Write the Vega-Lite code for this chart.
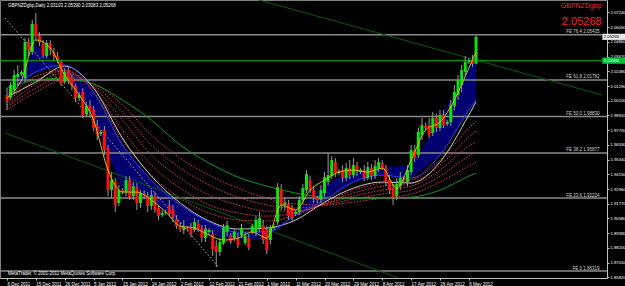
{
"$schema":"https://vega.github.io/schema/vega-lite/v6.json",
"width":607,"height":278,
"autosize":{"type":"none"},
"padding":{"left":0,"top":0,"right":18,"bottom":8},
"background":"#000000",
"config":{"view":{"stroke":"#808080","strokeWidth":1},"font":"Liberation Sans",
 "axis":{"grid":false,"titleOpacity":0,"titleFontSize":1,"labelFontSize":4.5,"labelColor":"#ffffff","labelPadding":1,"tickSize":2,"tickColor":"#c0c0c0","domainColor":"#c0c0c0","labelOverlap":false,"labelFlush":false,"labelBound":false}},
"datasets":{
"k":[
{"n":0,"d":"2011-12-06","o":2.0056,"h":2.0112,"l":1.9935,"c":2.0000},
{"n":1,"d":"2011-12-07","o":2.0039,"h":2.0161,"l":2.0016,"c":2.0137},
{"n":2,"d":"2011-12-08","o":2.0096,"h":2.0258,"l":2.0072,"c":2.0218},
{"n":3,"d":"2011-12-09","o":2.0201,"h":2.0299,"l":2.0137,"c":2.0226},
{"n":4,"d":"2011-12-11","o":2.0226,"h":2.0258,"l":2.0209,"c":2.0242},
{"n":5,"d":"2011-12-12","o":2.0193,"h":2.0517,"l":2.0161,"c":2.0485},
{"n":6,"d":"2011-12-13","o":2.0485,"h":2.0517,"l":2.0371,"c":2.0420},
{"n":7,"d":"2011-12-14","o":2.0404,"h":2.0663,"l":2.0380,"c":2.0631},
{"n":8,"d":"2011-12-15","o":2.0631,"h":2.0720,"l":2.0501,"c":2.0533},
{"n":9,"d":"2011-12-16","o":2.0533,"h":2.0566,"l":2.0452,"c":2.0485},
{"n":10,"d":"2011-12-18","o":2.0469,"h":2.0501,"l":2.0355,"c":2.0380},
{"n":11,"d":"2011-12-19","o":2.0371,"h":2.0501,"l":2.0355,"c":2.0477},
{"n":12,"d":"2011-12-20","o":2.0477,"h":2.0501,"l":2.0380,"c":2.0420},
{"n":13,"d":"2011-12-21","o":2.0404,"h":2.0436,"l":2.0339,"c":2.0371},
{"n":14,"d":"2011-12-22","o":2.0371,"h":2.0404,"l":2.0315,"c":2.0339},
{"n":15,"d":"2011-12-23","o":2.0323,"h":2.0339,"l":2.0129,"c":2.0145},
{"n":16,"d":"2011-12-26","o":2.0161,"h":2.0274,"l":2.0145,"c":2.0242},
{"n":17,"d":"2011-12-27","o":2.0258,"h":2.0282,"l":2.0145,"c":2.0177},
{"n":18,"d":"2011-12-28","o":2.0193,"h":2.0226,"l":2.0096,"c":2.0129},
{"n":19,"d":"2011-12-29","o":2.0129,"h":2.0145,"l":2.0000,"c":2.0031},
{"n":20,"d":"2011-12-30","o":2.0031,"h":2.0080,"l":2.0008,"c":2.0056},
{"n":21,"d":"2012-01-02","o":2.0080,"h":2.0112,"l":1.9870,"c":1.9895},
{"n":22,"d":"2012-01-03","o":1.9903,"h":2.0000,"l":1.9878,"c":1.9967},
{"n":23,"d":"2012-01-04","o":1.9975,"h":2.0016,"l":1.9886,"c":1.9919},
{"n":24,"d":"2012-01-05","o":1.9935,"h":1.9967,"l":1.9765,"c":1.9789},
{"n":25,"d":"2012-01-06","o":1.9805,"h":1.9854,"l":1.9692,"c":1.9733},
{"n":26,"d":"2012-01-08","o":1.9741,"h":1.9773,"l":1.9725,"c":1.9757},
{"n":27,"d":"2012-01-09","o":1.9773,"h":1.9805,"l":1.9571,"c":1.9611},
{"n":28,"d":"2012-01-10","o":1.9627,"h":1.9652,"l":1.9238,"c":1.9287},
{"n":29,"d":"2012-01-11","o":1.9287,"h":1.9433,"l":1.9222,"c":1.9368},
{"n":30,"d":"2012-01-12","o":1.9352,"h":1.9384,"l":1.9110,"c":1.9167},
{"n":31,"d":"2012-01-13","o":1.9183,"h":1.9328,"l":1.9159,"c":1.9287},
{"n":32,"d":"2012-01-15","o":1.9287,"h":1.9303,"l":1.9255,"c":1.9271},
{"n":33,"d":"2012-01-16","o":1.9271,"h":1.9400,"l":1.9238,"c":1.9368},
{"n":34,"d":"2012-01-17","o":1.9368,"h":1.9400,"l":1.9207,"c":1.9230},
{"n":35,"d":"2012-01-18","o":1.9238,"h":1.9352,"l":1.9207,"c":1.9319},
{"n":36,"d":"2012-01-19","o":1.9311,"h":1.9344,"l":1.9126,"c":1.9183},
{"n":37,"d":"2012-01-20","o":1.9183,"h":1.9287,"l":1.9142,"c":1.9263},
{"n":38,"d":"2012-01-22","o":1.9255,"h":1.9287,"l":1.9214,"c":1.9238},
{"n":39,"d":"2012-01-23","o":1.9238,"h":1.9271,"l":1.9110,"c":1.9159},
{"n":40,"d":"2012-01-24","o":1.9159,"h":1.9287,"l":1.9126,"c":1.9247},
{"n":41,"d":"2012-01-25","o":1.9238,"h":1.9271,"l":1.9102,"c":1.9126},
{"n":42,"d":"2012-01-26","o":1.9142,"h":1.9167,"l":1.9045,"c":1.9077},
{"n":43,"d":"2012-01-27","o":1.9085,"h":1.9126,"l":1.9069,"c":1.9102},
{"n":44,"d":"2012-01-29","o":1.9102,"h":1.9126,"l":1.9085,"c":1.9110},
{"n":45,"d":"2012-01-30","o":1.9167,"h":1.9207,"l":1.9077,"c":1.9102},
{"n":46,"d":"2012-01-31","o":1.9126,"h":1.9167,"l":1.9029,"c":1.9061},
{"n":47,"d":"2012-02-01","o":1.9053,"h":1.9085,"l":1.8972,"c":1.8996},
{"n":48,"d":"2012-02-02","o":1.8996,"h":1.9029,"l":1.8948,"c":1.8972},
{"n":49,"d":"2012-02-03","o":1.8964,"h":1.9045,"l":1.8932,"c":1.8988},
{"n":50,"d":"2012-02-05","o":1.8980,"h":1.8996,"l":1.8956,"c":1.8972},
{"n":51,"d":"2012-02-06","o":1.8980,"h":1.9021,"l":1.8907,"c":1.8932},
{"n":52,"d":"2012-02-07","o":1.8964,"h":1.9061,"l":1.8948,"c":1.9029},
{"n":53,"d":"2012-02-08","o":1.9013,"h":1.9045,"l":1.8948,"c":1.8972},
{"n":54,"d":"2012-02-09","o":1.8980,"h":1.9004,"l":1.8867,"c":1.8899},
{"n":55,"d":"2012-02-10","o":1.8899,"h":1.9004,"l":1.8867,"c":1.8972},
{"n":56,"d":"2012-02-12","o":1.8948,"h":1.8980,"l":1.8923,"c":1.8964},
{"n":57,"d":"2012-02-13","o":1.8932,"h":1.8964,"l":1.8754,"c":1.8810},
{"n":58,"d":"2012-02-14","o":1.8834,"h":1.8883,"l":1.8664,"c":1.8786},
{"n":59,"d":"2012-02-15","o":1.8786,"h":1.8899,"l":1.8754,"c":1.8867},
{"n":60,"d":"2012-02-16","o":1.8859,"h":1.9013,"l":1.8843,"c":1.8980},
{"n":61,"d":"2012-02-17","o":1.8948,"h":1.9037,"l":1.8915,"c":1.9004},
{"n":62,"d":"2012-02-19","o":1.8923,"h":1.8940,"l":1.8851,"c":1.8867},
{"n":63,"d":"2012-02-20","o":1.8899,"h":1.8972,"l":1.8875,"c":1.8948},
{"n":64,"d":"2012-02-21","o":1.8899,"h":1.8940,"l":1.8818,"c":1.8843},
{"n":65,"d":"2012-02-22","o":1.8923,"h":1.9013,"l":1.8899,"c":1.8980},
{"n":66,"d":"2012-02-23","o":1.8859,"h":1.8948,"l":1.8843,"c":1.8915},
{"n":67,"d":"2012-02-24","o":1.8899,"h":1.8932,"l":1.8802,"c":1.8826},
{"n":68,"d":"2012-02-26","o":1.8948,"h":1.9013,"l":1.8932,"c":1.8996},
{"n":69,"d":"2012-02-27","o":1.8948,"h":1.9077,"l":1.8915,"c":1.9045},
{"n":70,"d":"2012-02-28","o":1.8980,"h":1.9110,"l":1.8948,"c":1.9061},
{"n":71,"d":"2012-02-29","o":1.9004,"h":1.9045,"l":1.8851,"c":1.8883},
{"n":72,"d":"2012-03-01","o":1.8964,"h":1.8996,"l":1.8770,"c":1.8802},
{"n":73,"d":"2012-03-02","o":1.8883,"h":1.9004,"l":1.8851,"c":1.8980},
{"n":74,"d":"2012-03-04","o":1.8980,"h":1.9013,"l":1.8964,"c":1.8996},
{"n":75,"d":"2012-03-05","o":1.9029,"h":1.9344,"l":1.9004,"c":1.9311},
{"n":76,"d":"2012-03-06","o":1.9295,"h":1.9336,"l":1.9126,"c":1.9159},
{"n":77,"d":"2012-03-07","o":1.9167,"h":1.9223,"l":1.9126,"c":1.9183},
{"n":78,"d":"2012-03-08","o":1.9175,"h":1.9207,"l":1.9045,"c":1.9077},
{"n":79,"d":"2012-03-09","o":1.9142,"h":1.9167,"l":1.9029,"c":1.9069},
{"n":80,"d":"2012-03-11","o":1.9094,"h":1.9126,"l":1.9077,"c":1.9110},
{"n":81,"d":"2012-03-12","o":1.9110,"h":1.9238,"l":1.9085,"c":1.9207},
{"n":82,"d":"2012-03-13","o":1.9207,"h":1.9336,"l":1.9175,"c":1.9303},
{"n":83,"d":"2012-03-14","o":1.9287,"h":1.9449,"l":1.9263,"c":1.9416},
{"n":84,"d":"2012-03-15","o":1.9368,"h":1.9400,"l":1.9263,"c":1.9287},
{"n":85,"d":"2012-03-16","o":1.9287,"h":1.9319,"l":1.9183,"c":1.9223},
{"n":86,"d":"2012-03-18","o":1.9223,"h":1.9238,"l":1.9183,"c":1.9207},
{"n":87,"d":"2012-03-19","o":1.9207,"h":1.9328,"l":1.9183,"c":1.9287},
{"n":88,"d":"2012-03-20","o":1.9263,"h":1.9433,"l":1.9238,"c":1.9392},
{"n":89,"d":"2012-03-21","o":1.9352,"h":1.9587,"l":1.9328,"c":1.9408},
{"n":90,"d":"2012-03-22","o":1.9400,"h":1.9562,"l":1.9376,"c":1.9530},
{"n":91,"d":"2012-03-23","o":1.9514,"h":1.9546,"l":1.9392,"c":1.9425},
{"n":92,"d":"2012-03-25","o":1.9425,"h":1.9457,"l":1.9408,"c":1.9441},
{"n":93,"d":"2012-03-26","o":1.9449,"h":1.9489,"l":1.9352,"c":1.9384},
{"n":94,"d":"2012-03-27","o":1.9384,"h":1.9506,"l":1.9360,"c":1.9465},
{"n":95,"d":"2012-03-28","o":1.9465,"h":1.9530,"l":1.9376,"c":1.9408},
{"n":96,"d":"2012-03-29","o":1.9408,"h":1.9546,"l":1.9384,"c":1.9489},
{"n":97,"d":"2012-03-30","o":1.9481,"h":1.9514,"l":1.9400,"c":1.9433},
{"n":98,"d":"2012-04-01","o":1.9433,"h":1.9465,"l":1.9416,"c":1.9449},
{"n":99,"d":"2012-04-02","o":1.9449,"h":1.9489,"l":1.9360,"c":1.9384},
{"n":100,"d":"2012-04-03","o":1.9384,"h":1.9514,"l":1.9368,"c":1.9473},
{"n":101,"d":"2012-04-04","o":1.9465,"h":1.9497,"l":1.9368,"c":1.9400},
{"n":102,"d":"2012-04-05","o":1.9400,"h":1.9530,"l":1.9376,"c":1.9481},
{"n":103,"d":"2012-04-06","o":1.9465,"h":1.9546,"l":1.9433,"c":1.9514},
{"n":104,"d":"2012-04-08","o":1.9506,"h":1.9530,"l":1.9449,"c":1.9465},
{"n":105,"d":"2012-04-09","o":1.9465,"h":1.9489,"l":1.9319,"c":1.9352},
{"n":106,"d":"2012-04-10","o":1.9368,"h":1.9408,"l":1.9255,"c":1.9287},
{"n":107,"d":"2012-04-11","o":1.9303,"h":1.9336,"l":1.9167,"c":1.9230},
{"n":108,"d":"2012-04-12","o":1.9238,"h":1.9384,"l":1.9207,"c":1.9336},
{"n":109,"d":"2012-04-13","o":1.9319,"h":1.9433,"l":1.9287,"c":1.9384},
{"n":110,"d":"2012-04-15","o":1.9384,"h":1.9400,"l":1.9352,"c":1.9368},
{"n":111,"d":"2012-04-16","o":1.9352,"h":1.9489,"l":1.9319,"c":1.9449},
{"n":112,"d":"2012-04-17","o":1.9433,"h":1.9652,"l":1.9408,"c":1.9611},
{"n":113,"d":"2012-04-18","o":1.9611,"h":1.9652,"l":1.9514,"c":1.9546},
{"n":114,"d":"2012-04-19","o":1.9571,"h":1.9789,"l":1.9546,"c":1.9757},
{"n":115,"d":"2012-04-20","o":1.9733,"h":1.9870,"l":1.9692,"c":1.9813},
{"n":116,"d":"2012-04-22","o":1.9805,"h":1.9830,"l":1.9773,"c":1.9789},
{"n":117,"d":"2012-04-23","o":1.9813,"h":1.9870,"l":1.9708,"c":1.9733},
{"n":118,"d":"2012-04-24","o":1.9749,"h":1.9919,"l":1.9725,"c":1.9870},
{"n":119,"d":"2012-04-25","o":1.9870,"h":1.9903,"l":1.9757,"c":1.9789},
{"n":120,"d":"2012-04-26","o":1.9789,"h":1.9935,"l":1.9765,"c":1.9895},
{"n":121,"d":"2012-04-27","o":1.9895,"h":1.9935,"l":1.9789,"c":1.9813},
{"n":122,"d":"2012-04-29","o":1.9821,"h":1.9854,"l":1.9805,"c":1.9838},
{"n":123,"d":"2012-04-30","o":1.9838,"h":2.0016,"l":1.9805,"c":1.9975},
{"n":124,"d":"2012-05-01","o":1.9967,"h":2.0137,"l":1.9935,"c":2.0080},
{"n":125,"d":"2012-05-02","o":2.0056,"h":2.0218,"l":2.0016,"c":2.0177},
{"n":126,"d":"2012-05-03","o":2.0137,"h":2.0299,"l":2.0080,"c":2.0258},
{"n":127,"d":"2012-05-04","o":2.0242,"h":2.0371,"l":2.0209,"c":2.0323},
{"n":128,"d":"2012-05-06","o":2.0323,"h":2.0355,"l":2.0307,"c":2.0339},
{"n":129,"d":"2012-05-07","o":2.0339,"h":2.0380,"l":2.0282,"c":2.0307},
{"n":130,"d":"2012-05-08","o":2.03103,"h":2.05390,"l":2.03083,"c":2.05268}
],
"ma":[
{"n":0,"bf":2.0039,"bb":2.0056,"w":2.0039,"g":2.0112,"r1":1.9935,"r2":1.9959,"r3":1.9975,"r4":2.0000,"r5":2.0016},
{"n":8,"bf":2.0460,"bb":2.0242,"w":2.0161,"g":2.0177,"r1":2.0080,"r2":2.0112,"r3":2.0145,"r4":2.0177,"r5":2.0209},
{"n":16,"bf":2.0242,"bb":2.0299,"w":2.0291,"g":2.0193,"r1":2.0177,"r2":2.0209,"r3":2.0234,"r4":2.0250,"r5":2.0258},
{"n":24,"bf":1.9870,"bb":2.0080,"w":2.0112,"g":2.0145,"r1":2.0145,"r2":2.0137,"r3":2.0121,"r4":2.0104,"r5":2.0080},
{"n":32,"bf":1.9287,"bb":1.9652,"w":1.9708,"g":2.0016,"r1":1.9975,"r2":1.9919,"r3":1.9854,"r4":1.9773,"r5":1.9692},
{"n":40,"bf":1.9207,"bb":1.9368,"w":1.9400,"g":1.9854,"r1":1.9733,"r2":1.9652,"r3":1.9571,"r4":1.9489,"r5":1.9408},
{"n":48,"bf":1.9004,"bb":1.9167,"w":1.9183,"g":1.9652,"r1":1.9546,"r2":1.9465,"r3":1.9384,"r4":1.9303,"r5":1.9222},
{"n":56,"bf":1.8923,"bb":1.9029,"w":1.9037,"g":1.9506,"r1":1.9408,"r2":1.9328,"r3":1.9247,"r4":1.9167,"r5":1.9102},
{"n":64,"bf":1.8883,"bb":1.8948,"w":1.8972,"g":1.9392,"r1":1.9303,"r2":1.9230,"r3":1.9167,"r4":1.9102,"r5":1.9045},
{"n":72,"bf":1.8899,"bb":1.8948,"w":1.8980,"g":1.9319,"r1":1.9222,"r2":1.9167,"r3":1.9118,"r4":1.9077,"r5":1.9037},
{"n":80,"bf":1.9110,"bb":1.9085,"w":1.9045,"g":1.9263,"r1":1.9175,"r2":1.9142,"r3":1.9118,"r4":1.9102,"r5":1.9085},
{"n":88,"bf":1.9328,"bb":1.9207,"w":1.9190,"g":1.9230,"r1":1.9167,"r2":1.9167,"r3":1.9175,"r4":1.9175,"r5":1.9183},
{"n":96,"bf":1.9449,"bb":1.9352,"w":1.9303,"g":1.9222,"r1":1.9190,"r2":1.9214,"r3":1.9238,"r4":1.9263,"r5":1.9287},
{"n":104,"bf":1.9473,"bb":1.9408,"w":1.9352,"g":1.9222,"r1":1.9222,"r2":1.9255,"r3":1.9287,"r4":1.9319,"r5":1.9344},
{"n":112,"bf":1.9489,"bb":1.9384,"w":1.9344,"g":1.9230,"r1":1.9255,"r2":1.9287,"r3":1.9319,"r4":1.9344,"r5":1.9368},
{"n":120,"bf":1.9854,"bb":1.9571,"w":1.9514,"g":1.9287,"r1":1.9352,"r2":1.9400,"r3":1.9449,"r4":1.9489,"r5":1.9530},
{"n":128,"bf":2.0299,"bb":1.9935,"w":1.9895,"g":1.9400,"r1":1.9481,"r2":1.9562,"r3":1.9643,"r4":1.9716,"r5":1.9789},
{"n":130,"bf":2.0420,"bb":2.0016,"w":2.0000,"g":1.9425,"r1":1.9514,"r2":1.9595,"r3":1.9676,"r4":1.9765,"r5":1.9846}
],
"yl":[
{"n":0,"p":2.0031},{"n":4,"p":2.0177},{"n":8,"p":2.0501},{"n":12,"p":2.0436},{"n":16,"p":2.0218},{"n":20,"p":2.0056},{"n":24,"p":1.9854},{"n":28,"p":1.9449},{"n":32,"p":1.9271},{"n":36,"p":1.9271},{"n":40,"p":1.9207},{"n":44,"p":1.9110},{"n":48,"p":1.8996},{"n":52,"p":1.8980},{"n":56,"p":1.8923},{"n":60,"p":1.8883},{"n":64,"p":1.8899},{"n":68,"p":1.8948},{"n":72,"p":1.8899},{"n":76,"p":1.9167},{"n":80,"p":1.9126},{"n":84,"p":1.9287},{"n":88,"p":1.9368},{"n":92,"p":1.9433},{"n":96,"p":1.9449},{"n":100,"p":1.9433},{"n":104,"p":1.9465},{"n":108,"p":1.9303},{"n":112,"p":1.9530},{"n":116,"p":1.9773},{"n":120,"p":1.9838},{"n":124,"p":2.0016},{"n":128,"p":2.0274},{"n":130,"p":2.0404}
],
"fib":[
{"t":"FE 0  1.86319","v":1.86319},
{"t":"FE 23.6  1.92224","v":1.92224},
{"t":"FE 38.2  1.95877","v":1.95877},
{"t":"FE 50.0  1.98830","v":1.98830},
{"t":"FE 61.8  2.01782","v":2.01782},
{"t":"FE 76.4  2.05435","v":2.05435}
],
"tl":[
{"line":"upper","n":69.8,"p":2.0825},{"line":"upper","n":165,"p":2.0056},
{"line":"lower","n":-0.55,"p":1.9749},{"line":"lower","n":108.5,"p":1.8576}
],
"dl":[{"n":-0.55,"p":2.0679},{"n":58.6,"p":1.8665}],
"lv":[{"v":2.0334}],
"bid":[{"t":"2.05268","v":2.05268,"lo":2.0502,"hi":2.0552}],
"lvtag":[{"t":"2.03340","v":2.0334,"lo":2.0309,"hi":2.0359}]
},
"layer":[
{"data":{"name":"ma"},"mark":{"type":"area","color":"#000070","opacity":1},
 "encoding":{"x":{"field":"n","type":"quantitative","scale":{"domain":[-0.55,164.9],"nice":false,"zero":false}},
 "y":{"field":"bf","type":"quantitative","scale":{"domain":[1.8576,2.0825],"nice":false,"zero":false},"axis":{"orient":"right"}},"y2":{"field":"bb"}}},
{"data":{"name":"fib"},"mark":{"type":"rule","color":"#8a8a8a","strokeWidth":1.5},
 "encoding":{"y":{"field":"v","type":"quantitative","scale":{"domain":[1.8576,2.0825],"nice":false,"zero":false},"axis":{"orient":"right"}}}},
{"data":{"name":"lv"},"mark":{"type":"rule","color":"#00b000","strokeWidth":1},
 "encoding":{"y":{"field":"v","type":"quantitative","scale":{"domain":[1.8576,2.0825],"nice":false,"zero":false},"axis":{"orient":"right"}}}},
{"data":{"name":"tl"},"mark":{"type":"line","color":"#006000","strokeWidth":1,"clip":true},
 "encoding":{"x":{"field":"n","type":"quantitative","scale":{"domain":[-0.55,164.9],"nice":false,"zero":false}},
 "y":{"field":"p","type":"quantitative","scale":{"domain":[1.8576,2.0825],"nice":false,"zero":false},"axis":{"orient":"right"}},"detail":{"field":"line"}}},
{"data":{"name":"dl"},"mark":{"type":"line","color":"#b0b0b0","strokeWidth":1,"strokeDash":[1.5,2],"clip":true},
 "encoding":{"x":{"field":"n","type":"quantitative","scale":{"domain":[-0.55,164.9],"nice":false,"zero":false}},
 "y":{"field":"p","type":"quantitative","scale":{"domain":[1.8576,2.0825],"nice":false,"zero":false},"axis":{"orient":"right"}}}},
{"data":{"name":"ma"},"transform":[{"fold":["r1","r2","r3","r4","r5"],"as":["k","p"]}],
 "mark":{"type":"line","strokeWidth":1,"strokeDash":[1.5,1.5],"interpolate":"monotone","color":"#e83c3c"},
 "encoding":{"x":{"field":"n","type":"quantitative","scale":{"domain":[-0.55,164.9],"nice":false,"zero":false}},
 "y":{"field":"p","type":"quantitative","scale":{"domain":[1.8576,2.0825],"nice":false,"zero":false},"axis":{"orient":"right"}},
 "detail":{"field":"k"}}},
{"data":{"name":"ma"},"mark":{"type":"line","color":"#109a10","strokeWidth":1,"interpolate":"monotone"},
 "encoding":{"x":{"field":"n","type":"quantitative","scale":{"domain":[-0.55,164.9],"nice":false,"zero":false}},
 "y":{"field":"g","type":"quantitative","scale":{"domain":[1.8576,2.0825],"nice":false,"zero":false},"axis":{"orient":"right"}}}},
{"data":{"name":"ma"},"mark":{"type":"line","color":"#c8c8c8","strokeWidth":1,"interpolate":"monotone"},
 "encoding":{"x":{"field":"n","type":"quantitative","scale":{"domain":[-0.55,164.9],"nice":false,"zero":false}},
 "y":{"field":"w","type":"quantitative","scale":{"domain":[1.8576,2.0825],"nice":false,"zero":false},"axis":{"orient":"right"}}}},
{"data":{"name":"ma"},"mark":{"type":"line","color":"#3a3aff","strokeWidth":1,"interpolate":"monotone"},
 "encoding":{"x":{"field":"n","type":"quantitative","scale":{"domain":[-0.55,164.9],"nice":false,"zero":false}},
 "y":{"field":"bb","type":"quantitative","scale":{"domain":[1.8576,2.0825],"nice":false,"zero":false},"axis":{"orient":"right"}}}},
{"data":{"name":"k"},"mark":{"type":"rule","color":"#9a9a9a","strokeWidth":1},
 "encoding":{"x":{"field":"n","type":"quantitative","scale":{"domain":[-0.55,164.9],"nice":false,"zero":false}},
 "y":{"field":"l","type":"quantitative","scale":{"domain":[1.8576,2.0825],"nice":false,"zero":false},"axis":{"orient":"right"}},"y2":{"field":"h"}}},
{"data":{"name":"k"},"mark":{"type":"bar","size":3},
 "encoding":{"x":{"field":"n","type":"quantitative","scale":{"domain":[-0.55,164.9],"nice":false,"zero":false},
   "axis":{"values":[0,8,16,24,32,40,48,56,64,72,80,88,96,104,112,120,128],"tickCount":60,"labelExpr":"['6 Dec 2011','15 Dec 2011','26 Dec 2011','5 Jan 2012','15 Jan 2012','24 Jan 2012','2 Feb 2012','12 Feb 2012','21 Feb 2012','1 Mar 2012','11 Mar 2012','20 Mar 2012','29 Mar 2012','8 Apr 2012','17 Apr 2012','26 Apr 2012','6 May 2012'][round(datum.value/8)]","labelAlign":"left","labelBaseline":"top","labelOverlap":false,"title":null}},
 "y":{"field":"o","type":"quantitative","scale":{"domain":[1.8576,2.0825],"nice":false,"zero":false},
   "axis":{"orient":"right","values":[1.8582,1.8701,1.882,1.8939,1.9058,1.9177,1.9296,1.9415,1.9534,1.9653,1.9772,1.9891,2.001,2.0129,2.0248,2.0367,2.0486,2.0605,2.0724],"tickCount":60,"format":".5f","labelFontSize":4.2,"labelAlign":"left","labelBaseline":"middle","labelOverlap":false,"title":null}},
 "y2":{"field":"c"},
 "color":{"condition":{"test":"datum.c >= datum.o","value":"#10e010"},"value":"#ff1010"}}},
{"data":{"name":"yl"},"mark":{"type":"line","color":"#c8c800","strokeWidth":1,"interpolate":"monotone"},
 "encoding":{"x":{"field":"n","type":"quantitative","scale":{"domain":[-0.55,164.9],"nice":false,"zero":false}},
 "y":{"field":"p","type":"quantitative","scale":{"domain":[1.8576,2.0825],"nice":false,"zero":false},"axis":{"orient":"right"}}}},
{"data":{"name":"fib"},"mark":{"type":"text","align":"right","baseline":"bottom","fontSize":4.5,"color":"#d0d0d0","dy":-0.5},
 "encoding":{"x":{"datum":164.2,"type":"quantitative","scale":{"domain":[-0.55,164.9],"nice":false,"zero":false}},
 "y":{"field":"v","type":"quantitative","scale":{"domain":[1.8576,2.0825],"nice":false,"zero":false},"axis":{"orient":"right"}},"text":{"field":"t"}}},
{"data":{"name":"bid"},"mark":{"type":"rect","clip":false,"color":"#e8e8e8"},
 "encoding":{"x":{"datum":165.0,"type":"quantitative","scale":{"domain":[-0.55,164.9],"nice":false,"zero":false}},"x2":{"datum":171.3},
 "y":{"field":"lo","type":"quantitative","scale":{"domain":[1.8576,2.0825],"nice":false,"zero":false},"axis":{"orient":"right"}},"y2":{"field":"hi"}}},
{"data":{"name":"lvtag"},"mark":{"type":"rect","clip":false,"color":"#00c040"},
 "encoding":{"x":{"datum":165.0,"type":"quantitative","scale":{"domain":[-0.55,164.9],"nice":false,"zero":false}},"x2":{"datum":171.3},
 "y":{"field":"lo","type":"quantitative","scale":{"domain":[1.8576,2.0825],"nice":false,"zero":false},"axis":{"orient":"right"}},"y2":{"field":"hi"}}},
{"data":{"name":"bid"},"mark":{"type":"text","align":"left","baseline":"middle","fontSize":4.2,"color":"#000000","clip":false},
 "encoding":{"x":{"datum":165.4,"type":"quantitative","scale":{"domain":[-0.55,164.9],"nice":false,"zero":false}},
 "y":{"field":"v","type":"quantitative","scale":{"domain":[1.8576,2.0825],"nice":false,"zero":false},"axis":{"orient":"right"}},"text":{"field":"t"}}},
{"data":{"name":"lvtag"},"mark":{"type":"text","align":"left","baseline":"middle","fontSize":4.2,"color":"#ffffff","clip":false},
 "encoding":{"x":{"datum":165.4,"type":"quantitative","scale":{"domain":[-0.55,164.9],"nice":false,"zero":false}},
 "y":{"field":"v","type":"quantitative","scale":{"domain":[1.8576,2.0825],"nice":false,"zero":false},"axis":{"orient":"right"}},"text":{"field":"t"}}},
{"data":{"values":[{"t":"GBPNZDgbp,Daily  2.03103 2.05390 2.03083 2.05268"}]},"mark":{"type":"text","align":"left","baseline":"middle","fontSize":4.5,"color":"#ffffff"},
 "encoding":{"x":{"datum":0.3,"type":"quantitative","scale":{"domain":[-0.55,164.9],"nice":false,"zero":false}},
 "y":{"datum":2.0776,"type":"quantitative","scale":{"domain":[1.8576,2.0825],"nice":false,"zero":false},"axis":{"orient":"right"}},"text":{"field":"t"}}},
{"data":{"values":[{"t":"MetaTrader, © 2001-2011 MetaQuotes Software Corp."}]},"mark":{"type":"text","align":"left","baseline":"middle","fontSize":4.5,"color":"#ffffff"},
 "encoding":{"x":{"datum":0.3,"type":"quantitative","scale":{"domain":[-0.55,164.9],"nice":false,"zero":false}},
 "y":{"datum":1.8608,"type":"quantitative","scale":{"domain":[1.8576,2.0825],"nice":false,"zero":false},"axis":{"orient":"right"}},"text":{"field":"t"}}},
{"data":{"values":[{"t":"GBPNZDgbp"}]},"mark":{"type":"text","align":"right","baseline":"middle","fontSize":7,"color":"#ff2020"},
 "encoding":{"x":{"datum":164.8,"type":"quantitative","scale":{"domain":[-0.55,164.9],"nice":false,"zero":false}},
 "y":{"datum":2.0776,"type":"quantitative","scale":{"domain":[1.8576,2.0825],"nice":false,"zero":false},"axis":{"orient":"right"}},"text":{"field":"t"}}},
{"data":{"values":[{"t":"2.05268"}]},"mark":{"type":"text","align":"right","baseline":"middle","fontSize":11,"color":"#ff2020"},
 "encoding":{"x":{"datum":164.8,"type":"quantitative","scale":{"domain":[-0.55,164.9],"nice":false,"zero":false}},
 "y":{"datum":2.0647,"type":"quantitative","scale":{"domain":[1.8576,2.0825],"nice":false,"zero":false},"axis":{"orient":"right"}},"text":{"field":"t"}}}
]
}
